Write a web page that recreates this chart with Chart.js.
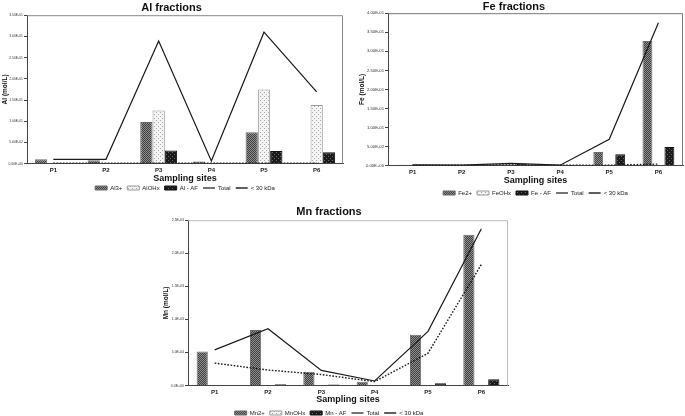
<!DOCTYPE html>
<html><head><meta charset="utf-8">
<script src="https://cdn.jsdelivr.net/npm/chart.js@4.4.0/dist/chart.umd.min.js"></script>
<style>
html,body{margin:0;padding:0;background:#fff;width:685px;height:416px;overflow:hidden;position:relative;}
.box{position:absolute;}
</style></head>
<body>
<div class="box" style="left:0;top:0;width:345px;height:201px"><canvas id="al"></canvas></div>
<div class="box" style="left:345px;top:0;width:340px;height:206px"><canvas id="fe"></canvas></div>
<div class="box" style="left:150px;top:203px;width:370px;height:223px"><canvas id="mn"></canvas></div>
<script>
const sites = ['P1','P2','P3','P4','P5','P6'];

// Al fractions (mol/L)
const alFree   = [0.010, 0.008, 0.098, 0.005, 0.074, 0.001];
const alOHx    = [0.000, 0.001, 0.125, 0.000, 0.175, 0.138];
const alAF     = [0.000, 0.000, 0.031, 0.000, 0.030, 0.027];
const alTotal  = [0.010, 0.010, 0.289, 0.006, 0.310, 0.169];
const al30kDa  = [0.001, 0.001, 0.001, 0.001, 0.001, 0.001];

// Fe fractions (mol/L)
const feFree   = [0.002, 0.001, 0.003, 0.001, 0.036, 0.327];
const feOHx    = [0.000, 0.001, 0.003, 0.000, 0.000, 0.000];
const feAF     = [0.001, 0.001, 0.005, 0.001, 0.030, 0.049];
const feTotal  = [0.002, 0.001, 0.006, 0.001, 0.069, 0.375];
const fe30kDa  = [0.001, 0.001, 0.002, 0.001, 0.001, 0.004];

// Mn fractions (mol/L)
const mnFree   = [5.15e-4, 8.4e-4, 2.1e-4, 6e-5, 7.7e-4, 2.28e-3];
const mnOHx    = [0, 0, 0, 0, 0, 0];
const mnAF     = [1e-5, 2e-5, 1.5e-5, 0, 3.5e-5, 9.5e-5];
const mnTotal  = [5.4e-4, 8.6e-4, 2.3e-4, 7e-5, 8.2e-4, 2.37e-3];
const mn30kDa  = [3.4e-4, 2.35e-4, 1.67e-4, 6e-5, 4.9e-4, 1.83e-3];

function pattern(bg, fg, kind){
  const c = document.createElement('canvas'); c.width = 4; c.height = 4;
  const x = c.getContext('2d');
  x.fillStyle = bg; x.fillRect(0,0,4,4);
  x.fillStyle = fg;
  if (kind === 'hatch'){
    for (let i=0;i<4;i++){ x.fillRect(i,(i)%4,1,1); x.fillRect(i,(i+2)%4,1,1); }
  } else {
    x.fillRect(0,0,1,1); x.fillRect(2,2,1,1);
  }
  return x.createPattern(c,'repeat');
}
const pHatch = pattern('#8f8f8f','#404040','hatch');
const pLight = pattern('#f4f4f4','#a8a8a8','dots');
const pDark  = pattern('#1a1a1a','#6a6a6a','dots');

function sci(v, d){
  const s = v.toExponential(d).split('e');
  const n = parseInt(s[1],10);
  return s[0] + 'E' + (n<0?'-':'+') + String(Math.abs(n)).padStart(2,'0');
}

const frame = {
  id:'frame',
  afterDatasetsDraw(chart, args, opts){
    const a = chart.chartArea, c = chart.ctx;
    c.save(); c.strokeStyle = opts.color; c.lineWidth = 1;
    c.beginPath();
    c.moveTo(a.left, a.top+0.5); c.lineTo(a.right-0.5, a.top+0.5); c.lineTo(a.right-0.5, a.bottom);
    c.stroke(); c.restore();
  }
};

function makeChart(id, opt){
  const barBase = {type:'bar', pointStyle:'rect', borderWidth:1};
  const lineBase = {type:'line', pointRadius:0, pointStyle:'line', fill:false, tension:0, backgroundColor:'#000'};
  new Chart(document.getElementById(id), {
    data:{
      labels: sites,
      datasets:[
        Object.assign({}, barBase, {label:opt.names[0], data:opt.d[0], backgroundColor:pHatch, borderColor:'#6a6a6a', order:2}),
        Object.assign({}, barBase, {label:opt.names[1], data:opt.d[1], backgroundColor:pLight, borderColor:'#9a9a9a', order:2}),
        Object.assign({}, barBase, {label:opt.names[2], data:opt.d[2], backgroundColor:pDark, borderColor:'#111', order:2}),
        Object.assign({}, lineBase, {label:'Total', data:opt.d[3], borderColor:'#1a1a1a', borderWidth:1.2, order:1}),
        Object.assign({}, lineBase, {label:'< 30 kDa', data:opt.d[4], borderColor:'#1a1a1a', borderWidth:1.4, borderDash:[1.6,1.6], order:1})
      ]
    },
    options:{
      responsive:true, maintainAspectRatio:false, animation:false,
      devicePixelRatio:1,
      layout:{padding:opt.pad},
      datasets:{bar:{categoryPercentage:opt.cat, barPercentage:opt.barp}},
      plugins:{
        frame:{color:opt.frameColor},
        tooltip:{enabled:false},
        title:{display:true, text:opt.title, fullSize:true, align:'center', color:'#111',
               font:{family:'Liberation Sans, Arial', size:11, weight:'bold'}, padding:opt.titlePad},
        legend:{position:'bottom', fullSize:opt.legFull,
               labels:{usePointStyle:true, pointStyleWidth:12, boxHeight:4, padding:5,
               color:'#222', font:{family:'Liberation Sans, Arial', size:6},
               sort:(a,b)=>a.datasetIndex-b.datasetIndex}}
      },
      scales:{
        x:{
          grid:{display:false, drawTicks:false},
          border:{display:true, color:'#444', width:1},
          ticks:{color:'#222', padding:3, font:{family:'Liberation Sans, Arial', size:6, weight:'bold'}, maxRotation:0},
          title:{display:true, text:'Sampling sites', color:'#111', padding:{top:0,bottom:opt.xtb},
                 font:{family:'Liberation Sans, Arial', size:9, weight:'bold'}},
          afterFit(s){ s.height = opt.xh; }
        },
        y:{
          min:0, max:opt.max,
          grid:{display:true, drawOnChartArea:false, drawTicks:true, tickLength:3, color:'#444'},
          border:{display:true, color:'#444', width:1},
          ticks:{stepSize:opt.step, color:'#333', padding:1, font:{family:'Liberation Sans, Arial', size:opt.tf},
                 callback:(v)=>sci(v, opt.dec)},
          title:{display:true, text:opt.ytitle, color:'#111', padding:{top:opt.ytp,bottom:0},
                 font:{family:'Liberation Sans, Arial', size:6.5, weight:'bold'}},
          afterFit(s){ s.width = opt.yw; }
        }
      }
    },
    plugins:[frame]
  });
}

makeChart('al', {
  title:'Al fractions', ytitle:'Al (mol/L)', names:['Al3+','AlOHx','Al - AF'],
  d:[alFree, alOHx, alAF, alTotal, al30kDa], max:0.35, step:0.05, dec:2, tf:3.4,
  yw:27, xh:16.4, xtb:-4, ytp:1, pad:{left:0, right:2, top:0, bottom:0}, titlePad:{top:1,bottom:1},
  cat:0.7, barp:1, frameColor:'#8a8a8a', legFull:false
});
makeChart('fe', {
  title:'Fe fractions', ytitle:'Fe (mol/L)', names:['Fe2+','FeOHx','Fe - AF'],
  d:[feFree, feOHx, feAF, feTotal, fe30kDa], max:0.40, step:0.05, dec:2, tf:4.2,
  yw:43, xh:19.4, xtb:-1, ytp:13, pad:{left:0, right:2, top:0, bottom:0}, titlePad:{top:0,bottom:0},
  cat:0.67, barp:0.9, frameColor:'#777', legFull:false
});
makeChart('mn', {
  title:'Mn fractions', ytitle:'Mn (mol/L)', names:['Mn2+','MnOHx','Mn - AF'],
  d:[mnFree, mnOHx, mnAF, mnTotal, mn30kDa], max:0.0025, step:0.0005, dec:1, tf:3.5,
  yw:38, xh:19.4, xtb:0, ytp:12, pad:{left:0, right:12, top:0, bottom:0}, titlePad:{top:2,bottom:2},
  cat:0.7, barp:0.9, frameColor:'#bbb', legFull:true
});
</script>
</body></html>
